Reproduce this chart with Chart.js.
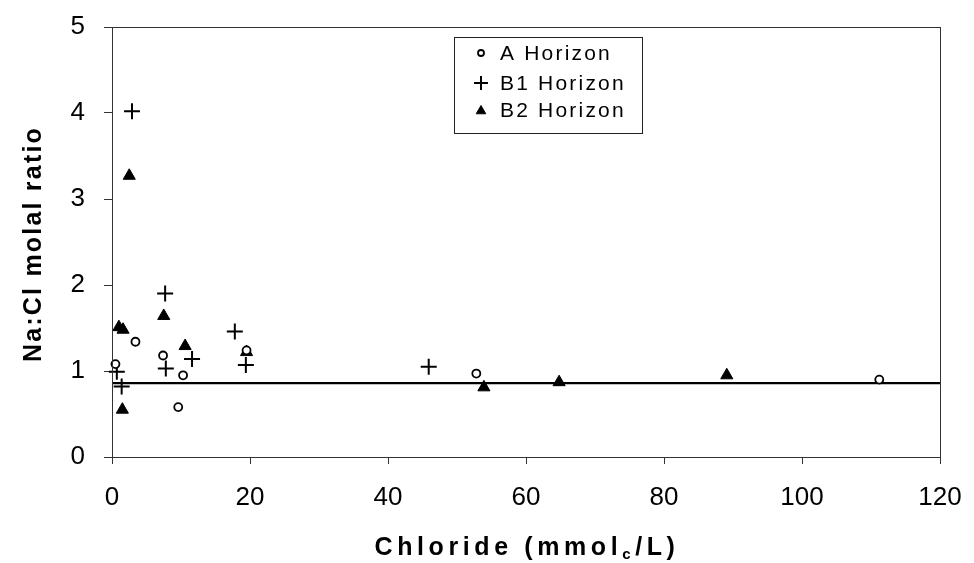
<!DOCTYPE html>
<html>
<head>
<meta charset="utf-8">
<script src="https://cdn.jsdelivr.net/npm/chart.js@4/dist/chart.umd.min.js"></script>
<style>
  html, body { margin: 0; padding: 0; background: #fff; }
  #wrap { width: 974px; height: 563px; }
</style>
</head>
<body>
<div id="wrap"><canvas id="naclChart" width="974" height="563"></canvas></div>
<script>
// Na:Cl ratio against chloride
const aChloride = [0.5, 3.4, 7.4, 10.3, 9.6, 19.5, 52.8, 111.2];
const aRatio = [1.08, 1.34, 1.18, 0.95, 0.58, 1.24, 0.97, 0.90];

const b1Chloride = [2.9, 7.7, 17.8, 11.6, 19.4, 7.8, 0.7, 1.4, 45.9];
const b1Ratio = [4.02, 1.90, 1.46, 1.14, 1.07, 1.03, 0.99, 0.82, 1.05];

const b2Chloride = [2.5, 7.5, 1.0, 1.6, 10.6, 19.5, 1.5, 53.9, 64.8, 89.1];
const b2Ratio = [3.27, 1.64, 1.51, 1.48, 1.29, 1.22, 0.55, 0.81, 0.87, 0.95];

const seawaterRatio = 0.86;
const xRange = [0, 120];
const yRange = [0, 5];

const FONT = "'Liberation Sans', Arial, sans-serif";

function pts(xs, ys) {
  return xs.map((x, i) => ({ x: x, y: ys[i] }));
}

// box round the plot, the legend and the two axis titles
const framePlugin = {
  id: "frame",
  afterDraw(chart) {
    const { ctx, chartArea: a } = chart;
    ctx.save();
    ctx.strokeStyle = "#333";
    ctx.lineWidth = 1;
    ctx.strokeRect(a.left + 0.5, a.top + 0.5, a.right - a.left, a.bottom - a.top);

    // legend
    ctx.fillStyle = "#fff";
    ctx.fillRect(454, 37, 188, 96);
    ctx.strokeStyle = "#222";
    ctx.strokeRect(454.5, 37.5, 188, 96);
    const rows = [53, 83, 110];
    const shown = chart.data.datasets.filter((d) => d.inLegend);
    shown.forEach((d, i) => {
      ctx.strokeStyle = "#000";
      ctx.fillStyle = d.backgroundColor;
      ctx.lineWidth = d.borderWidth;
      Chart.helpers.drawPoint(ctx, {
        pointStyle: d.pointStyle,
        radius: d.legendRadius,
        borderWidth: d.borderWidth,
      }, 481, rows[i] + (d.pointStyle === "triangle" ? 1 : 0));
      ctx.fillStyle = "#000";
      ctx.font = "21px " + FONT;
      ctx.letterSpacing = "2.2px";
      ctx.textAlign = "left";
      ctx.textBaseline = "middle";
      ctx.fillText(d.label, 500, rows[i] + 1);
    });

    // x title with subscript c
    ctx.fillStyle = "#000";
    ctx.textBaseline = "alphabetic";
    ctx.textAlign = "left";
    ctx.letterSpacing = "4.6px";
    const big = "bold 25px " + FONT;
    const small = "bold 15px " + FONT;
    const parts = [["Chloride (mmol", big, 0], ["c", small, 4], ["/L)", big, 0]];
    let total = 0;
    parts.forEach((p) => { ctx.font = p[1]; total += ctx.measureText(p[0]).width; });
    let x = 527 - total / 2;
    parts.forEach((p) => {
      ctx.font = p[1];
      ctx.fillText(p[0], x, 555 + p[2]);
      x += ctx.measureText(p[0]).width;
    });

    // y title
    ctx.save();
    ctx.translate(34, 244);
    ctx.rotate(-Math.PI / 2);
    ctx.font = big;
    ctx.letterSpacing = "2.2px";
    ctx.textAlign = "center";
    ctx.textBaseline = "middle";
    ctx.fillText("Na:Cl molal ratio", 0, 0);
    ctx.restore();

    ctx.restore();
  },
};

const ctx = document.getElementById("naclChart");
new Chart(ctx, {
  type: "scatter",
  data: {
    datasets: [
      {
        label: "A Horizon",
        data: pts(aChloride, aRatio),
        pointStyle: "circle",
        pointRadius: 4,
        legendRadius: 3,
        borderWidth: 1.8,
        borderColor: "#000",
        backgroundColor: "#fff",
        inLegend: true,
        clip: false,
      },
      {
        label: "B1 Horizon",
        data: pts(b1Chloride, b1Ratio),
        pointStyle: "cross",
        pointRadius: 8,
        legendRadius: 7,
        borderWidth: 2,
        borderColor: "#000",
        backgroundColor: "#000",
        inLegend: true,
        clip: false,
      },
      {
        label: "B2 Horizon",
        data: pts(b2Chloride, b2Ratio),
        pointStyle: "triangle",
        pointRadius: 7,
        legendRadius: 5.5,
        borderWidth: 1,
        borderColor: "#000",
        backgroundColor: "#000",
        inLegend: true,
        clip: false,
      },
      {
        type: "line",
        label: "Seawater",
        data: [
          { x: xRange[0], y: seawaterRatio },
          { x: xRange[1], y: seawaterRatio },
        ],
        borderColor: "#000",
        borderWidth: 2.2,
        pointRadius: 0,
        showLine: true,
      },
    ],
  },
  options: {
    responsive: false,
    animation: false,
    layout: { padding: { top: 27, right: 34, left: 0, bottom: 0 } },
    plugins: {
      legend: { display: false },
      tooltip: { enabled: false },
    },
    scales: {
      x: {
        type: "linear",
        min: xRange[0],
        max: xRange[1],
        ticks: {
          stepSize: 20,
          color: "#000",
          font: { family: FONT, size: 26 },
          padding: 18,
          maxRotation: 0,
        },
        grid: { drawOnChartArea: false, drawTicks: true, tickLength: 7, color: "#333" },
        border: { display: true, color: "#333", width: 1 },
        afterFit(s) {
          s.height = 106;
          s.paddingLeft = 0;
          s.paddingRight = 0;
        },
      },
      y: {
        min: yRange[0],
        max: yRange[1],
        ticks: {
          stepSize: 1,
          color: "#000",
          font: { family: FONT, size: 26 },
          padding: 19,
        },
        grid: { drawOnChartArea: false, drawTicks: true, tickLength: 8, color: "#333" },
        border: { display: true, color: "#333", width: 1 },
        afterFit(s) {
          s.width = 112;
          s.paddingTop = 0;
          s.paddingBottom = 0;
        },
      },
    },
  },
  plugins: [framePlugin],
});
</script>
</body>
</html>
